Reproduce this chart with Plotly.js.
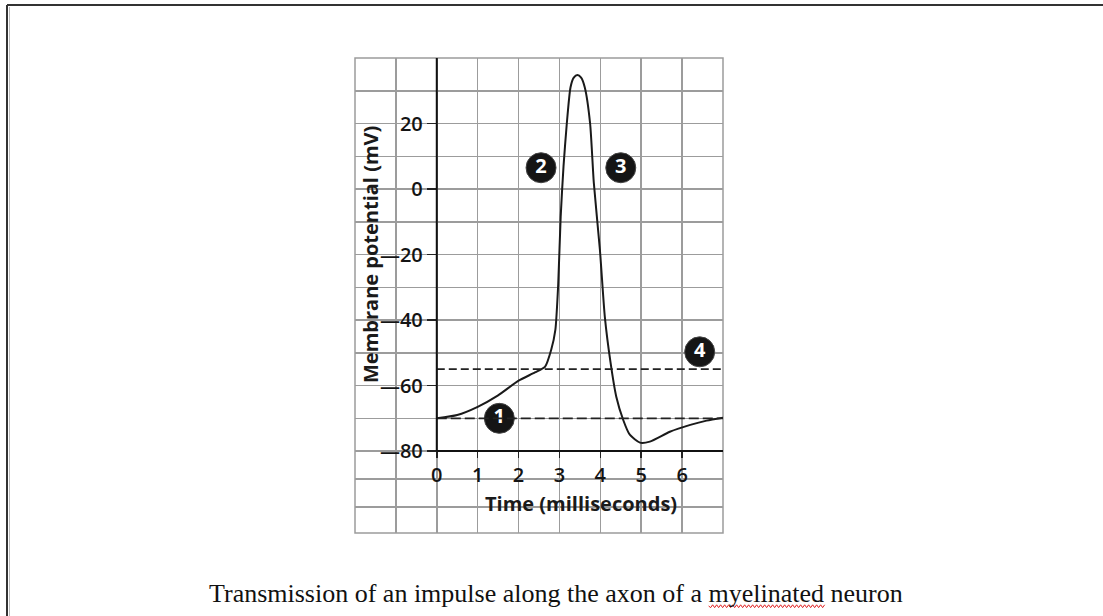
<!DOCTYPE html>
<html>
<head>
<meta charset="utf-8">
<script src="https://cdn.plot.ly/plotly-3.0.1.min.js"></script>
<style>
  html, body { margin: 0; padding: 0; background: #ffffff; }
  #chart { width: 1103px; height: 616px; }
</style>
</head>
<body>
<div id="chart"></div>
<script>
// ---- data ----
const timeMs = [0, 0.5, 1.0, 1.5, 2.0, 2.4, 2.65, 2.8, 2.9, 2.97, 3.03, 3.1, 3.18, 3.27, 3.35, 3.44, 3.53, 3.62, 3.75, 3.84, 3.99, 4.11, 4.25, 4.39, 4.56, 4.72, 4.97, 5.21, 5.7, 6.2, 6.6, 7.0];
const potentialMv = [-70, -69, -66.5, -63, -58.5, -56, -54.2, -49, -43, -29, -8.5, 7, 20, 31, 34, 34.8, 34, 31, 20, 2, -18.6, -39, -53, -63.4, -70.5, -75, -77.4, -77.1, -74.1, -72, -70.7, -69.8];

const thresholdMv = -55;
const restingMv = -70;

const stageLabels = ['1', '2', '3', '4'];
const stageTime = [1.53, 2.55, 4.5, 6.43];
const stageMv = [-70, 6.5, 6.5, -49.7];

const xTickVals = [0, 1, 2, 3, 4, 5, 6];
const xTickText = ['0', '1', '2', '3', '4', '5', '6'];
const yTickVals = [-80, -60, -40, -20, 0, 20];
const yTickText = ['\u201480', '\u201460', '\u201440', '\u201420', '0', '20'];
const yMinorGrid = [-97, -88.5, -70, -50, -30, -10, 10, 30];

const xTitle = 'Time (milliseconds)';
const yTitle = 'Membrane potential (mV)';
const captionBefore = 'Transmission of an impulse along the axon of a ';
const captionWord = 'myelinated';
const captionAfter = ' neuron';
const caption = captionBefore + captionWord + captionAfter;

// ---- layout geometry ----
const W = 1103, H = 616;
const xRange = [-2, 7], yRange = [-105, 40];
const xDom = [355 / W, 723 / W];
const yDom = [(H - 533) / H, (H - 58) / H];
function px(x) { return x / W; }
function py(y) { return 1 - y / H; }
const xAxisPos = yDom[0] + (-80 - yRange[0]) / (yRange[1] - yRange[0]) * (yDom[1] - yDom[0]);
const yAxisPos = xDom[0] + (0 - xRange[0]) / (xRange[1] - xRange[0]) * (xDom[1] - xDom[0]);

const tickFont = { family: 'Open Sans, Noto Sans, sans-serif', size: 20, color: '#141414', weight: 600 };
const gridColor = '#9c9c9c';

const traces = [
  {
    x: timeMs, y: potentialMv, type: 'scatter', mode: 'lines',
    line: { color: '#1a1a1a', width: 2, shape: 'spline', smoothing: 0.6 },
    hoverinfo: 'x+y', showlegend: false
  },
  {
    x: stageTime, y: stageMv, type: 'scatter', mode: 'markers+text',
    text: stageLabels, textposition: 'middle center',
    textfont: { family: 'Open Sans, sans-serif', size: 20, color: '#ffffff', weight: 'bold' },
    marker: { size: 30, color: '#151515', line: { color: '#444', width: 1 } },
    hoverinfo: 'text', showlegend: false
  }
];

// caption geometry and wavy spell-check underline under "myelinated"
const capFamily = 'Liberation Serif';
const capCx = 556, capCy = 593, capSize = 26;
const cv = document.createElement('canvas').getContext('2d');
cv.font = capSize + 'px "' + capFamily + '"';
const fullW = cv.measureText(caption).width;
const beforeW = cv.measureText(captionBefore).width;
const wordW = cv.measureText(captionWord).width;
const wx0 = capCx - fullW / 2 + beforeW, wx1 = wx0 + wordW, wy = capCy + 13;
let wave = 'M ' + px(wx0) + ',' + py(wy);
for (let i = 1, xx = wx0; xx < wx1; i++) {
  xx += 2;
  wave += ' L ' + px(xx) + ',' + py(wy + (i % 2 ? 1.6 : -1.2));
}

const shapes = [
  // outer page frame (top & left)
  { type: 'line', xref: 'paper', yref: 'paper', x0: px(7), x1: 1, y0: py(5), y1: py(5), line: { color: '#333', width: 2 } },
  { type: 'line', xref: 'paper', yref: 'paper', x0: px(7), x1: px(7), y0: py(5), y1: 0, line: { color: '#333', width: 2 } },
  { type: 'line', xref: 'paper', yref: 'paper', x0: px(9.5), x1: px(9.5), y0: py(7), y1: 0, line: { color: '#bbb', width: 1 } },
  // grid border
  { type: 'rect', xref: 'x domain', yref: 'y domain', x0: 0, x1: 1, y0: 0, y1: 1, line: { color: gridColor, width: 1.5 }, layer: 'below' },
  // dashed reference lines
  { type: 'line', xref: 'x', yref: 'y', x0: 0, x1: 7, y0: thresholdMv, y1: thresholdMv, line: { color: '#222', width: 1.8, dash: '8px,4px' } },
  { type: 'line', xref: 'x', yref: 'y', x0: 0, x1: 7, y0: restingMv, y1: restingMv, line: { color: '#222', width: 1.8, dash: '10px,4px' } },
  // axis lines
  { type: 'line', xref: 'x', yref: 'y', x0: 0, x1: 7, y0: -80, y1: -80, line: { color: '#111', width: 2 } },
  { type: 'line', xref: 'x', yref: 'y', x0: 0, x1: 0, y0: -80, y1: 40, line: { color: '#111', width: 2 } },
  // red wavy underline
  { type: 'path', xref: 'paper', yref: 'paper', path: wave, line: { color: '#e02020', width: 1 } }
];

const annotations = [
  { text: yTitle, xref: 'paper', yref: 'paper', x: px(370), y: py(255), textangle: -90, showarrow: false,
    xanchor: 'center', yanchor: 'middle',
    font: { family: 'Open Sans, sans-serif', size: 20, color: '#1a1a1a', weight: 'bold' } },
  { text: xTitle, xref: 'paper', yref: 'paper', x: px(581), y: py(503), showarrow: false,
    xanchor: 'center', yanchor: 'middle',
    font: { family: 'Open Sans, sans-serif', size: 20, color: '#1a1a1a', weight: 'bold' } },
  { text: caption, xref: 'paper', yref: 'paper', x: px(capCx), y: py(capCy), showarrow: false,
    xanchor: 'center', yanchor: 'middle',
    font: { family: capFamily + ', Times New Roman, serif', size: capSize, color: '#111' } }
];

const layout = {
  width: W, height: H,
  margin: { l: 0, r: 0, t: 0, b: 0 },
  paper_bgcolor: '#ffffff', plot_bgcolor: '#ffffff',
  showlegend: false,
  xaxis: {
    domain: xDom, range: xRange, anchor: 'free', position: xAxisPos,
    tickmode: 'array', tickvals: xTickVals, ticktext: xTickText,
    ticks: 'outside', ticklen: 6, tickwidth: 1.5, tickcolor: '#222',
    tickfont: tickFont, ticklabelstandoff: 0,
    showgrid: true, gridcolor: gridColor, gridwidth: 1.5,
    minor: { tick0: 0, dtick: 1, showgrid: true, gridcolor: gridColor, gridwidth: 1.5 },
    zeroline: false, showline: false, fixedrange: true
  },
  yaxis: {
    domain: yDom, range: yRange, anchor: 'free', position: yAxisPos,
    tickmode: 'array', tickvals: yTickVals, ticktext: yTickText,
    ticks: 'outside', ticklen: 10, tickwidth: 1.5, tickcolor: '#222',
    tickfont: tickFont, ticklabelstandoff: 0,
    showgrid: true, gridcolor: gridColor, gridwidth: 1.5,
    minor: { tickmode: 'array', tickvals: yMinorGrid, showgrid: true, gridcolor: gridColor, gridwidth: 1.5 },
    zeroline: false, showline: false, fixedrange: true
  },
  shapes: shapes,
  annotations: annotations
};

Plotly.newPlot('chart', traces, layout, { displayModeBar: false, staticPlot: true });
</script>
</body>
</html>
